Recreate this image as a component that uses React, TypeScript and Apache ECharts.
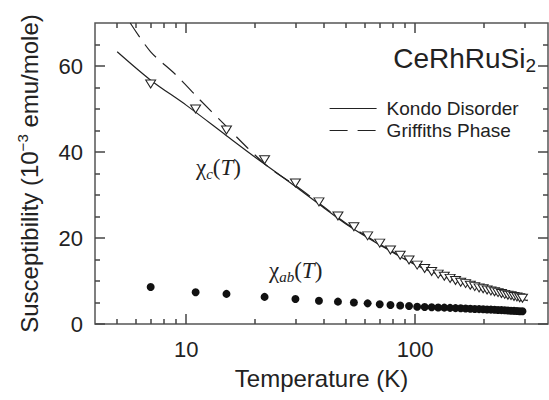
import React, { useEffect, useRef } from 'react';
import * as echarts from 'echarts';

// Measured temperatures (K) and susceptibilities (10^-3 emu/mole)
const temps = [7, 11, 15, 22, 30, 38, 46, 54, 62, 70, 78, 86, 94, 102, 110, 118, 126, 134, 142, 150, 158, 166, 174, 182, 190, 198, 206, 214, 222, 230, 238, 246, 254, 262, 270, 278, 286, 294];
const chiC = [55.8, 50.0, 45.1, 38.2, 32.8, 28.4, 25.1, 22.6, 20.5, 18.8, 17.2, 16.0, 14.9, 13.7, 12.9, 12.2, 11.6, 11.1, 10.6, 10.1, 9.7, 9.4, 9.0, 8.7, 8.4, 8.2, 7.9, 7.7, 7.5, 7.3, 7.1, 6.9, 6.7, 6.6, 6.4, 6.3, 6.1, 6.0];
const chiAB = [8.6, 7.4, 7.0, 6.3, 5.8, 5.4, 5.2, 5.0, 4.8, 4.6, 4.4, 4.3, 4.2, 4.0, 3.95, 3.9, 3.85, 3.8, 3.75, 3.7, 3.65, 3.6, 3.55, 3.5, 3.46, 3.42, 3.38, 3.34, 3.3, 3.26, 3.22, 3.18, 3.14, 3.1, 3.06, 3.02, 2.98, 2.95];

// Fit curves
const kondoT = [5, 7, 10, 15, 20, 30, 40, 50, 70, 100, 150, 200, 300, 310];
const kondoV = [63.3, 56.7, 50.9, 43.8, 38.8, 32.0, 27.0, 23.2, 18.4, 13.8, 10.0, 7.9, 5.6, 5.4];
const griffT = [5.7, 7, 9, 11.5, 14.5, 18.5, 23, 30, 40, 50, 70, 100, 150, 200, 300, 310];
const griffV = [70, 63.3, 58, 52.1, 46.7, 41.0, 36.4, 32.2, 27.2, 23.4, 18.6, 14.0, 10.1, 8.0, 5.8, 5.6];

// Axis ticks
const xMajor = [10, 100];
const xMinor = [5, 6, 7, 8, 9, 20, 30, 40, 50, 60, 70, 80, 90, 200, 300];
const yMajor = [0, 20, 40, 60];
const yMinor = [5, 10, 15, 25, 30, 35, 45, 50, 55, 65];

const X_MIN = 4;
const X_MAX = 380;
const Y_MIN = 0;
const Y_MAX = 70;

const FONT = 'Liberation Sans, Arial, Helvetica, sans-serif';
const SERIF = 'Liberation Serif, Times New Roman, serif';
const AXIS_COLOR = '#555';
const TEXT_COLOR = '#222';
const MAJOR_LEN = 10;
const MINOR_LEN = 5;

function zip(a: number[], b: number[]) {
  return a.map((v, i) => [v, b[i]]);
}

export default function App() {
  const ref = useRef<HTMLDivElement>(null);
  useEffect(() => {
    if (!ref.current) return;
    const chart = echarts.init(ref.current, undefined, { renderer: 'svg' });

    const tickLine = { color: '#444', width: 1.5 };

    const xTickAxis = (position: 'bottom' | 'top', values: number[], len: number) => ({
      type: 'log', logBase: 10, min: X_MIN, max: X_MAX, position,
      axisLine: { show: false, onZero: false },
      axisTick: { show: true, inside: true, length: len, customValues: values, lineStyle: tickLine },
      axisLabel: { show: false },
      splitLine: { show: false },
    });
    const yTickAxis = (position: 'left' | 'right', values: number[], len: number) => ({
      type: 'value', min: Y_MIN, max: Y_MAX, position,
      axisLine: { show: false, onZero: false },
      axisTick: { show: true, inside: true, length: len, customValues: values, lineStyle: tickLine },
      axisLabel: { show: false },
      splitLine: { show: false },
    });

    const subRich = {
      g: { fontSize: 23, fontFamily: SERIF, fill: TEXT_COLOR, lineHeight: 28 },
      i: { fontSize: 23, fontFamily: SERIF, fontStyle: 'italic', fill: TEXT_COLOR, lineHeight: 28 },
      s: { fontSize: 15, fontFamily: SERIF, fontStyle: 'italic', fill: TEXT_COLOR, lineHeight: 15, verticalAlign: 'bottom' },
    };

    const option: any = {
      animation: false,
      backgroundColor: '#fff',
      grid: {
        left: 95, top: 23, right: 1, bottom: 76, containLabel: false,
        show: true, borderColor: AXIS_COLOR, borderWidth: 1.5, backgroundColor: 'transparent',
      },
      title: {
        text: '{a|CeRhRuSi}{b|2}', right: 8, top: 36,
        textStyle: {
          fontWeight: 'normal',
          rich: {
            a: { fontSize: 28, fontWeight: 'normal', color: TEXT_COLOR, fontFamily: FONT, lineHeight: 34, verticalAlign: 'middle' },
            b: { fontSize: 19, fontWeight: 'normal', color: TEXT_COLOR, fontFamily: FONT, lineHeight: 19, verticalAlign: 'bottom' },
          },
        },
      },
      legend: {
        orient: 'vertical', left: 324, top: 94, itemWidth: 47, itemHeight: 14, itemGap: 3, selectedMode: false,
        itemStyle: { opacity: 0 },
        textStyle: { fontSize: 19, color: TEXT_COLOR, fontFamily: FONT, padding: [0, 0, 0, 5] },
        data: [
          { name: 'Kondo Disorder', itemStyle: { opacity: 0 }, lineStyle: { type: 'solid', width: 1.2, color: '#222' } },
          { name: 'Griffiths Phase', itemStyle: { opacity: 0 }, lineStyle: { type: [18, 10], width: 1.2, color: '#222' } },
        ],
      },
      xAxis: [
        {
          type: 'log', logBase: 10, min: X_MIN, max: X_MAX, position: 'bottom',
          axisLine: { show: false, onZero: false },
          axisTick: { show: false },
          axisLabel: { show: true, customValues: xMajor, fontSize: 22, color: TEXT_COLOR, fontFamily: FONT, margin: 14 },
          splitLine: { show: false },
          name: 'Temperature (K)', nameLocation: 'middle', nameGap: 42,
          nameTextStyle: { fontSize: 24, color: TEXT_COLOR, fontFamily: FONT },
        },
        xTickAxis('bottom', xMajor, MAJOR_LEN),
        xTickAxis('bottom', xMinor, MINOR_LEN),
        xTickAxis('top', xMajor, MAJOR_LEN),
        xTickAxis('top', xMinor, MINOR_LEN),
      ],
      yAxis: [
        {
          type: 'value', min: Y_MIN, max: Y_MAX, position: 'left',
          axisLine: { show: false, onZero: false },
          axisTick: { show: false },
          axisLabel: { show: true, customValues: yMajor, fontSize: 22, color: TEXT_COLOR, fontFamily: FONT, margin: 12 },
          splitLine: { show: false },
          name: 'Susceptibility (10{sup|−3} emu/mole)', nameLocation: 'middle', nameGap: 52,
          nameTextStyle: {
            fontSize: 24, color: TEXT_COLOR, fontFamily: FONT,
            rich: { sup: { fontSize: 15, color: TEXT_COLOR, fontFamily: FONT, verticalAlign: 'top', lineHeight: 28 } },
          },
        },
        yTickAxis('left', yMajor, MAJOR_LEN),
        yTickAxis('left', yMinor, MINOR_LEN),
        yTickAxis('right', yMajor, MAJOR_LEN),
        yTickAxis('right', yMinor, MINOR_LEN),
      ],
      graphic: [
        { type: 'text', left: 196, top: 156, style: { text: '{g|χ}{s|c}{g|(}{i|T}{g|)}', rich: subRich } },
        { type: 'text', left: 269, top: 259, style: { text: '{g|χ}{s|ab}{g|(}{i|T}{g|)}', rich: subRich } },
      ],
      series: [
        {
          name: 'Kondo Disorder', type: 'line', data: zip(kondoT, kondoV), showSymbol: false, symbol: 'none', smooth: 0.3,
          lineStyle: { color: '#222', width: 1.2, type: 'solid' }, itemStyle: { color: '#222' }, z: 2,
        },
        {
          name: 'Griffiths Phase', type: 'line', data: zip(griffT, griffV), showSymbol: false, symbol: 'none', smooth: 0.3,
          lineStyle: { color: '#222', width: 1.2, type: [17, 9] }, itemStyle: { color: '#222' }, z: 2,
        },
        {
          name: 'chi_c', type: 'scatter', data: zip(temps, chiC), symbol: 'triangle', symbolRotate: 180, symbolSize: [10, 8],
          itemStyle: { color: '#fff', borderColor: '#222', borderWidth: 1, opacity: 1 }, z: 3,
        },
        {
          name: 'chi_ab', type: 'scatter', data: zip(temps, chiAB), symbol: 'circle', symbolSize: 8,
          itemStyle: { color: '#111', opacity: 1 }, z: 3,
        },
      ],
    };

    chart.setOption(option);
    return () => chart.dispose();
  }, []);

  return (
    <div ref={ref} style={{ position: 'fixed', left: 0, top: 0, width: 549, height: 400, background: '#fff' }} />
  );
}
